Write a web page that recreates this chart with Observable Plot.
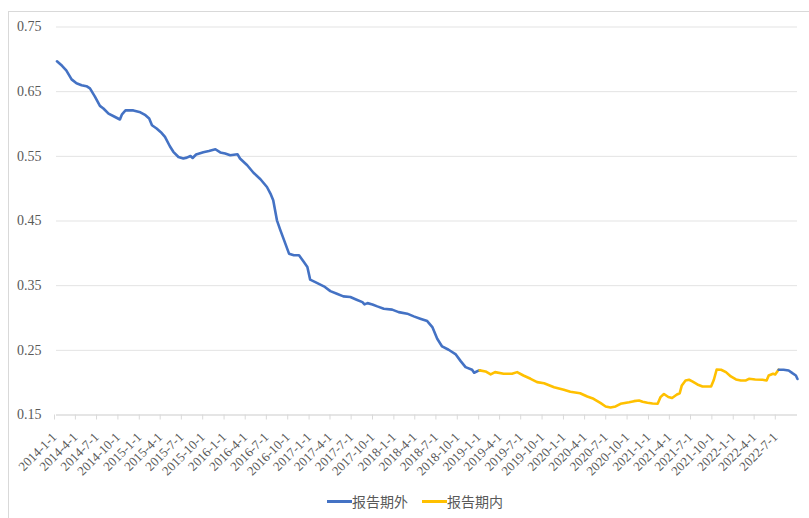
<!DOCTYPE html>
<html><head><meta charset="utf-8">
<script src="https://cdn.jsdelivr.net/npm/d3@7"></script>
<script src="https://cdn.jsdelivr.net/npm/@observablehq/plot@0.6"></script>
<style>
body{margin:0;background:#fff;}
#wrap{position:relative;width:809px;height:518px;overflow:hidden;background:#fff;}
#frame{position:absolute;left:8px;top:11px;width:830px;height:560px;border:1px solid #d9d9d9;}
#chart{position:absolute;left:0;top:0;}
#chart svg text{font-family:"Liberation Serif","Times New Roman",serif !important;}
#legend{position:absolute;top:491px;left:327px;height:20px;display:flex;align-items:center;font-family:"Noto Sans CJK SC";font-size:14px;line-height:20px;color:#595959;}
.sw{display:inline-block;width:25px;height:3px;}
.lab{display:inline-block;margin-right:14px;}
</style></head>
<body>
<div id="wrap"><div id="frame"></div><div id="chart"></div>
<div id="legend"><span class="sw" id="sw0"></span><span class="lab" id="lb0"></span><span class="sw" id="sw1"></span><span class="lab" id="lb1"></span></div>
</div>
<script>
const seriesNames = ["报告期外", "报告期内"];
const seriesColors = ["#4472C4", "#FFC000"];

const outsideDates1 = ["2014-01-03","2014-01-25","2014-02-12","2014-03-07","2014-03-28","2014-04-19","2014-05-10","2014-05-25","2014-06-16","2014-07-07","2014-07-22","2014-08-13","2014-09-04","2014-10-01","2014-10-10","2014-10-25","2014-11-28","2014-12-28","2015-01-19","2015-02-04","2015-02-16","2015-03-08","2015-03-30","2015-04-13","2015-05-04","2015-05-19","2015-06-10","2015-07-01","2015-07-16","2015-08-01","2015-08-10","2015-08-25","2015-09-25","2015-10-19","2015-11-16","2015-12-07","2015-12-28","2016-01-19","2016-02-19","2016-03-01","2016-04-01","2016-04-28","2016-05-28","2016-06-25","2016-07-10","2016-07-22","2016-08-07","2016-08-22","2016-09-07","2016-09-28","2016-10-19","2016-11-10","2016-12-01","2016-12-16","2016-12-28","2017-01-28","2017-02-25","2017-03-25","2017-04-22","2017-05-20","2017-06-19","2017-07-16","2017-08-10","2017-08-19","2017-09-01","2017-09-22","2017-10-13","2017-11-10","2017-12-16","2018-01-13","2018-02-19","2018-03-19","2018-04-16","2018-05-16","2018-06-07","2018-06-28","2018-07-19","2018-08-16","2018-09-16","2018-10-07","2018-10-28","2018-11-25","2018-12-04","2018-12-25","2018-12-28"];
const outsideValues1 = [0.697,0.690,0.683,0.669,0.663,0.660,0.6585,0.655,0.642,0.628,0.624,0.616,0.612,0.607,0.615,0.621,0.621,0.618,0.6136,0.6085,0.598,0.593,0.586,0.580,0.5656,0.557,0.549,0.5466,0.548,0.5506,0.5475,0.5528,0.5564,0.5584,0.561,0.556,0.5543,0.5517,0.5533,0.5466,0.5362,0.5246,0.5146,0.5026,0.4924,0.482,0.451,0.4356,0.420,0.3995,0.397,0.397,0.3865,0.3788,0.3593,0.354,0.349,0.3416,0.3376,0.3334,0.3324,0.3283,0.3246,0.321,0.323,0.321,0.318,0.3144,0.3129,0.3091,0.3067,0.3025,0.2989,0.2952,0.2859,0.268,0.256,0.2509,0.2437,0.2333,0.224,0.220,0.2153,0.2189,0.219];

const insideDates = ["2018-12-28","2019-01-22","2019-02-13","2019-03-04","2019-04-10","2019-05-16","2019-06-07","2019-07-04","2019-08-04","2019-09-01","2019-10-01","2019-11-13","2019-12-25","2020-01-22","2020-03-04","2020-04-04","2020-05-01","2020-06-01","2020-06-22","2020-07-13","2020-08-04","2020-08-25","2020-10-01","2020-10-22","2020-11-13","2020-11-28","2020-12-19","2021-01-10","2021-02-01","2021-02-13","2021-02-28","2021-03-19","2021-04-04","2021-04-25","2021-05-07","2021-05-16","2021-06-01","2021-06-16","2021-06-30","2021-07-22","2021-08-13","2021-09-04","2021-09-19","2021-10-01","2021-10-13","2021-11-01","2021-11-22","2021-12-13","2022-01-04","2022-01-25","2022-02-16","2022-03-01","2022-03-28","2022-04-28","2022-05-16","2022-05-25","2022-06-13","2022-06-22","2022-07-04","2022-07-07"];
const insideValues = [0.219,0.2173,0.2127,0.2163,0.2138,0.2138,0.2163,0.2111,0.206,0.2008,0.1992,0.193,0.189,0.1859,0.1837,0.1786,0.175,0.1683,0.1632,0.1616,0.1632,0.1673,0.1698,0.1714,0.1724,0.1704,0.1689,0.1678,0.1673,0.1776,0.1825,0.1779,0.1763,0.1817,0.1837,0.1957,0.2034,0.2045,0.2019,0.1972,0.1941,0.1941,0.1941,0.2045,0.2204,0.220,0.2163,0.2096,0.205,0.2034,0.2034,0.206,0.205,0.2045,0.2034,0.2111,0.2138,0.2127,0.2189,0.220];

const outsideDates2 = ["2022-07-07","2022-07-28","2022-08-19","2022-09-04","2022-09-19","2022-09-26"];
const outsideValues2 = [0.220,0.220,0.2189,0.2147,0.2111,0.2057];

const yTicks = [0.15,0.25,0.35,0.45,0.55,0.65,0.75];
const xTickLabels = ["2014-1-1","2014-4-1","2014-7-1","2014-10-1","2015-1-1","2015-4-1","2015-7-1","2015-10-1","2016-1-1","2016-4-1","2016-7-1","2016-10-1","2017-1-1","2017-4-1","2017-7-1","2017-10-1","2018-1-1","2018-4-1","2018-7-1","2018-10-1","2019-1-1","2019-4-1","2019-7-1","2019-10-1","2020-1-1","2020-4-1","2020-7-1","2020-10-1","2021-1-1","2021-4-1","2021-7-1","2021-10-1","2022-1-1","2022-4-1","2022-7-1"];
const xDomain = ["2014-01-01","2022-09-26"];

const parse = s => { const [y,m,d] = s.split("-").map(Number); return new Date(Date.UTC(y, m-1, d)); };
const rows = [];
function addSeg(dates, vals, name, seg) {
  dates.forEach((d, i) => rows.push({date: parse(d), value: vals[i], series: name, seg}));
}
addSeg(outsideDates1, outsideValues1, seriesNames[0], 0);
addSeg(insideDates, insideValues, seriesNames[1], 1);
addSeg(outsideDates2, outsideValues2, seriesNames[0], 2);

const xTicks = xTickLabels.map(parse);
const labelMap = new Map(xTicks.map((d, i) => [+d, xTickLabels[i]]));
const serif = "Liberation Serif";

const chart = Plot.plot({
  width: 809,
  height: 485,
  marginLeft: 56,
  marginRight: 12,
  marginTop: 26.5,
  marginBottom: 70.5,
  style: {fontFamily: serif, background: "transparent", color: "#595959"},
  x: {type: "utc", domain: xDomain.map(parse)},
  y: {domain: [0.15, 0.75]},
  color: {domain: seriesNames, range: seriesColors},
  marks: [
    Plot.gridY(yTicks, {stroke: "#e3e3e3", strokeOpacity: 1, strokeWidth: 1}),
    Plot.ruleY([0.15], {stroke: "#d9d9d9", strokeWidth: 1}),
    Plot.axisY(yTicks, {tickSize: 0, tickPadding: 15, tickFormat: d3.format(".2f"), fontSize: 14, fontFamily: serif, fill: "#595959", label: null}),
    Plot.axisX(xTicks, {tickSize: 5, tickPadding: 15, dx: -2, tickRotate: -45, stroke: "#d9d9d9", strokeOpacity: 1, fill: "#595959", fontSize: 13, fontFamily: serif, label: null, tickFormat: d => labelMap.get(+d)}),
    Plot.line(rows, {x: "date", y: "value", z: "seg", stroke: "series", strokeWidth: 2.6, strokeLinejoin: "round", strokeLinecap: "round"})
  ]
});
document.getElementById("chart").appendChild(chart);
seriesNames.forEach((n, i) => {
  document.getElementById("sw" + i).style.background = seriesColors[i];
  document.getElementById("lb" + i).textContent = n;
});
</script>
</body></html>
